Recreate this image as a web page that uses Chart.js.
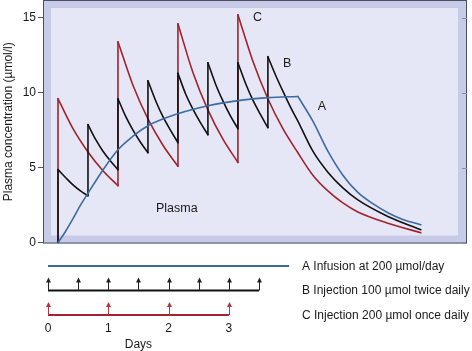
<!DOCTYPE html>
<html>
<head>
<meta charset="utf-8">
<script src="https://cdn.jsdelivr.net/npm/chart.js@4.4.1/dist/chart.umd.min.js"></script>
<style>
  html, body { margin: 0; padding: 0; background: #fff; }
  #wrap { position: relative; width: 472px; height: 351px; }
  #plot { position: absolute; left: 0; top: 0; }
  #doses { position: absolute; left: 0; top: 245px; }
</style>
</head>
<body>
<div id="wrap">
  <canvas id="plot" width="472" height="256"></canvas>
  <canvas id="doses" width="472" height="106"></canvas>
</div>
<script>
// A: infusion, smooth rise then washout after day 4
const daysA = [0, 0.125, 0.25, 0.375, 0.5, 0.75, 1, 1.25, 1.5, 2, 2.5, 3, 3.5, 4,
               4.25, 4.5, 4.75, 5, 5.25, 5.5, 5.75, 6.05];
const concA = [0, 0.75, 1.6, 2.5, 3.3, 4.85, 6.2, 7.1, 7.8, 8.6, 9.13, 9.47, 9.67, 9.75,
               8.1, 6.1, 4.5, 3.35, 2.6, 2.0, 1.55, 1.2];

// B: 100 umol twice daily (repeated day = jump at injection)
const daysB = [0, 0, 0.125, 0.25, 0.375,
               0.5, 0.5, 0.625, 0.75, 0.875,
               1, 1, 1.125, 1.25, 1.375,
               1.5, 1.5, 1.625, 1.75, 1.875,
               2, 2, 2.125, 2.25, 2.375,
               2.5, 2.5, 2.625, 2.75, 2.875,
               3, 3, 3.125, 3.25, 3.375,
               3.5, 3.5, 3.625, 3.75, 3.875, 4, 4.25, 4.5, 4.75, 5, 5.5, 6.05];
const concB = [0, 4.87, 4.35, 3.85, 3.45,
               3.13, 7.87, 6.9, 6.1, 5.45,
               4.87, 9.6, 8.45, 7.5, 6.7,
               6.0, 10.8, 9.5, 8.4, 7.5,
               6.67, 11.3, 9.95, 8.9, 8.0,
               7.2, 12.0, 10.6, 9.45, 8.45,
               7.6, 12.0, 10.65, 9.5, 8.55,
               7.67, 12.4, 11.2, 10.1, 9.05, 8.1, 6.1, 4.7, 3.65, 2.85, 1.75, 0.87];

// C: 200 umol once daily
const daysC = [0, 0, 0.25, 0.5, 0.75,
               1, 1, 1.25, 1.5, 1.75,
               2, 2, 2.25, 2.5, 2.75,
               3, 3, 3.25, 3.5, 3.75, 4, 4.25, 4.5, 4.75, 5, 5.5, 6.05];
const concC = [0, 9.6, 7.6, 6.05, 4.8,
               3.8, 13.4, 10.5, 8.25, 6.5,
               5.1, 14.6, 11.35, 8.85, 6.9,
               5.35, 15.2, 12.1, 9.6, 7.6, 6.0, 4.5, 3.45, 2.65, 2.05, 1.3, 0.67];

const yTicks = [0, 5, 10, 15];
const yTitle = 'Plasma concentration (\u00b5mol/l)';

// dosing schedule (lower panel)
const infusionEnd = 4;
const doseDaysB = [0, 0.5, 1, 1.5, 2, 2.5, 3, 3.5];
const doseDaysC = [0, 1, 2, 3];
const dayTicks = [0, 1, 2, 3];
const legendTexts = [
  'A Infusion at 200 \u00b5mol/day',
  'B Injection 100 \u00b5mol twice daily',
  'C Injection 200 \u00b5mol once daily'
];

const BLUE = '#3e6a9f', BLACK = '#111111', RED = '#a3222c', TEXT = '#1a1a1a';
const FONT = '"Liberation Sans", Arial, sans-serif';
Chart.defaults.font.family = FONT;
Chart.defaults.font.size = 12;
Chart.defaults.color = TEXT;

// cut a curve into smooth decay pieces + straight vertical jumps
function pieces(days, conc) {
  const out = [];
  let cur = [{ x: days[0], y: conc[0] }];
  for (let i = 1; i < days.length; i++) {
    const p = { x: days[i], y: conc[i] };
    const prev = cur[cur.length - 1];
    if (days[i] === days[i - 1]) {
      if (cur.length > 1) out.push({ pts: cur });
      out.push({ pts: [prev, p], jump: true });
      cur = [p];
    } else {
      if (cur.length > 1 && (prev.y - cur[cur.length - 2].y) * (p.y - prev.y) < 0) {
        out.push({ pts: cur });
        cur = [prev];
      }
      cur.push(p);
    }
  }
  if (cur.length > 1) out.push({ pts: cur });
  return out;
}

function curveSets(days, conc, color) {
  return pieces(days, conc).map(pc => ({
    data: pc.pts,
    borderColor: color,
    borderWidth: 1.6,
    pointRadius: 0,
    tension: 0,
    cubicInterpolationMode: pc.jump ? 'default' : 'monotone',
    borderCapStyle: 'round',
    borderJoinStyle: 'round'
  }));
}

const framePlugin = {
  id: 'frame',
  beforeDatasetsDraw(chart) {
    const { ctx, chartArea: a } = chart;
    ctx.save();
    ctx.fillStyle = '#c8cbe8';
    ctx.fillRect(a.left, a.top, a.right - a.left, a.bottom - a.top);
    ctx.fillStyle = '#e5e7f6';
    ctx.fillRect(a.left + 8, a.top + 8, a.right - a.left - 17, a.bottom - a.top - 16);
    ctx.restore();
  },
  afterDraw(chart) {
    const { ctx, chartArea: a } = chart;
    const y = chart.scales.y;
    ctx.save();
    ctx.strokeStyle = '#4a5064';
    ctx.lineWidth = 1;
    ctx.strokeRect(a.left + 0.5, a.top + 0.5, a.right - a.left - 1, a.bottom - a.top - 1);
    ctx.strokeStyle = '#8a8ea8';
    yTicks.forEach(v => {
      const py = Math.round(y.getPixelForValue(v)) + 0.5;
      ctx.beginPath();
      ctx.moveTo(a.right - 5, py);
      ctx.lineTo(a.right, py);
      ctx.stroke();
    });
    ctx.restore();
  }
};

// curve letters and compartment name, placed in data units
const plotLabels = [
  { text: 'C', day: 3.25, conc: 15.0, align: 'left' },
  { text: 'B', day: 3.75, conc: 11.95, align: 'left' },
  { text: 'A', day: 4.33, conc: 9.05, align: 'left' },
  { text: 'Plasma', day: 1.98, conc: 2.3, align: 'center' }
];

const labelPlugin = {
  id: 'labels',
  afterDatasetsDraw(chart) {
    const { ctx, scales: { x, y } } = chart;
    ctx.save();
    ctx.fillStyle = TEXT;
    ctx.font = '12.5px ' + FONT;
    ctx.textBaseline = 'middle';
    plotLabels.forEach(l => {
      ctx.textAlign = l.align;
      ctx.fillText(l.text, x.getPixelForValue(l.day), y.getPixelForValue(l.conc));
    });
    ctx.restore();
  }
};

new Chart(document.getElementById('plot'), {
  type: 'line',
  data: {
    datasets: [
      ...curveSets(daysA, concA, BLUE),
      ...curveSets(daysB, concB, BLACK),
      ...curveSets(daysC, concC, RED)
    ]
  },
  options: {
    responsive: false,
    animation: false,
    layout: { padding: { top: 0, right: 5, bottom: 12.5, left: 0 } },
    plugins: { legend: { display: false }, tooltip: { enabled: false } },
    scales: {
      x: { type: 'linear', min: -0.25, max: 6.82, display: false },
      y: {
        min: -0.053, max: 16.18,
        afterFit: s => { s.width = 43; s.paddingTop = 0; s.paddingBottom = 0; },
        afterBuildTicks: s => { s.ticks = yTicks.map(v => ({ value: v })); },
        ticks: { padding: 2, color: TEXT },
        grid: { drawOnChartArea: false, drawTicks: true, tickLength: 5, color: '#555' },
        border: { display: false },
        title: { display: true, text: yTitle, color: TEXT, padding: { top: 1, bottom: 0 } }
      }
    }
  },
  plugins: [framePlugin, labelPlugin]
});

// lower panel: dosing regimens
const schedulePlugin = {
  id: 'schedule',
  afterDatasetsDraw(chart) {
    const { ctx, scales: { x, y } } = chart;
    ctx.save();
    const arrow = (d, level, color) => {
      const px = Math.round(x.getPixelForValue(d)) + 0.5;
      const py = y.getPixelForValue(level);
      ctx.strokeStyle = color;
      ctx.fillStyle = color;
      ctx.lineWidth = 1;
      ctx.beginPath();
      ctx.moveTo(px, py);
      ctx.lineTo(px, py - 9);
      ctx.stroke();
      ctx.beginPath();
      ctx.moveTo(px, py - 13);
      ctx.lineTo(px - 2.5, py - 8);
      ctx.lineTo(px + 2.5, py - 8);
      ctx.closePath();
      ctx.fill();
    };
    doseDaysB.forEach(d => arrow(d, 2, '#222'));
    doseDaysC.forEach(d => arrow(d, 1, '#b8323f'));

    ctx.fillStyle = TEXT;
    ctx.font = '12px ' + FONT;
    ctx.textBaseline = 'middle';
    ctx.textAlign = 'left';
    legendTexts.forEach((t, i) => ctx.fillText(t, 302, y.getPixelForValue(3 - i) + 0.5));
    ctx.textAlign = 'center';
    ctx.fillText('Days', x.getPixelForValue(1.5), 100);
    ctx.restore();
  }
};

new Chart(document.getElementById('doses'), {
  type: 'line',
  data: {
    datasets: [
      { data: [{ x: 0, y: 3 }, { x: infusionEnd, y: 3 }], borderColor: BLUE },
      { data: [{ x: 0, y: 2 }, { x: doseDaysB[doseDaysB.length - 1], y: 2 }], borderColor: BLACK },
      { data: [{ x: 0, y: 1 }, { x: doseDaysC[doseDaysC.length - 1], y: 1 }], borderColor: RED }
    ]
  },
  options: {
    responsive: false,
    animation: false,
    layout: { padding: { top: 0, right: 2, bottom: 0, left: 48 } },
    plugins: { legend: { display: false }, tooltip: { enabled: false } },
    elements: { point: { radius: 0 }, line: { borderWidth: 2, tension: 0 } },
    scales: {
      x: {
        type: 'linear', min: 0, max: 7,
        afterFit: s => { s.height = 31; },
        afterBuildTicks: s => { s.ticks = dayTicks.map(v => ({ value: v })); },
        grid: { display: false, drawTicks: false },
        border: { display: false },
        ticks: { padding: 1, color: TEXT, maxRotation: 0 }
      },
      y: { display: false, min: 0.796, max: 3.857 }
    }
  },
  plugins: [schedulePlugin]
});
</script>
</body>
</html>
